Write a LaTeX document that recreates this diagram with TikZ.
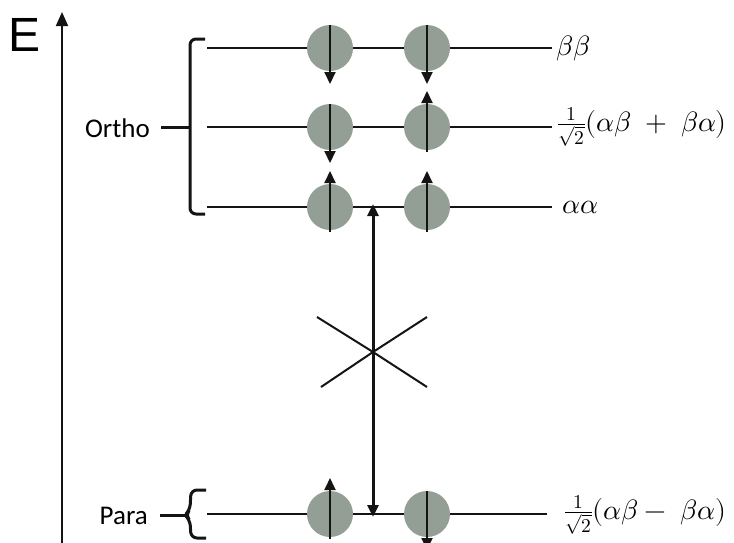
\documentclass[tikz,border=0pt]{standalone}
\usepackage{fontspec}
\usepackage{unicode-math}
\setmainfont{Carlito}
\setmathfont{Latin Modern Math}
\newfontfamily\efont{Liberation Sans}
\usetikzlibrary{arrows.meta,calc}

\definecolor{spingray}{RGB}{147,159,149}
\definecolor{ink}{RGB}{20,20,20}

\begin{document}
\begin{tikzpicture}[x=1pt,y=-1pt,
  level/.style={draw=ink, line width=2.6pt},
  spin/.style={circle, fill=spingray, minimum size=46pt, inner sep=0pt},
  spinarrow/.style={draw=ink, line width=2pt, -{Triangle[length=12pt,width=11pt]}},
  bracket/.style={draw=ink, line width=3pt, rounded corners=6pt},
  tick/.style={draw=ink, line width=3pt},
  axis/.style={draw=ink, line width=1.8pt, -{Triangle[length=14pt,width=12pt]}},
  trans/.style={draw=ink, line width=3pt, {Triangle[length=12pt,width=11pt]}-{Triangle[length=12pt,width=11pt]}},
  crossline/.style={draw=ink, line width=2pt},
  statelbl/.style={anchor=west, inner sep=0pt, font=\fontsize{28}{32}\selectfont},
  grouplbl/.style={anchor=east, inner sep=0pt, font=\fontsize{27}{30}\selectfont}]
\useasboundingbox (0,0) rectangle (734,542);

% energy axis
\node[font=\efont\fontsize{48}{50}\selectfont, inner sep=0pt] (E) at (25,35) {E};
\coordinate (axbot) at (62,545);
\coordinate (axtop) at (62,12);
\draw[axis] (axbot) -- (axtop);

% energy levels
\foreach \n/\y/\xr in {1/48/552, 2/127/552, 3/207/552, 4/514/547} {
  \coordinate (L\n a) at (207,\y);
  \coordinate (L\n b) at (\xr,\y);
  \draw[level] (L\n a) -- (L\n b);
}

% spin circles
\foreach \n/\y in {1/48, 2/127, 3/207, 4/514} {
  \node[spin] (s\n a) at (330,\y) {};
  \node[spin] (s\n b) at (427,\y) {};
}

% spin arrows: down = from top edge to below, up = from below to above
\foreach \s in {s1a, s1b, s2a, s4b} {
  \draw[spinarrow] ($(\s.center)+(0,-23)$) -- ($(\s.center)+(0,36)$);
}
\foreach \s in {s2b, s3a, s3b, s4a} {
  \draw[spinarrow] ($(\s.center)+(0,25)$) -- ($(\s.center)+(0,-36)$);
}

% state labels
\node[statelbl] (lab1) at (556,48) {$\beta\beta$};
\node[statelbl] (lab2) at (557,127) {$\tfrac{1}{\sqrt{2}}(\alpha\beta\;+\;\beta\alpha)$};
\node[statelbl] (lab3) at (562,207) {$\alpha\alpha$};
\node[statelbl] (lab4) at (564,515) {$\tfrac{1}{\sqrt{2}}(\alpha\beta-\;\beta\alpha)$};

% ortho bracket
\draw[bracket] (205,39) -- (190,39) -- (190,214) -- (205,214);
\coordinate (orthotip) at (190,127);
\draw[tick] (161,127) -- (orthotip);
\node[grouplbl] (ortho) at (150,128) {Ortho};

% para bracket
\draw[bracket] (206,490) -- (191,490) -- (190,510) -- (185,515) -- (190,520) -- (191,538) -- (206,538);
\coordinate (paratip) at (186,515);
\draw[tick] (160,515) -- (paratip);
\node[grouplbl] (para) at (148,516) {Para};

% forbidden transition
\coordinate (ttop) at (373,204);
\coordinate (tbot) at (373,517);
\draw[trans] (ttop) -- (tbot);
\coordinate (xc) at (373,352);
\draw[crossline] (317,317) -- (xc) -- (427,387);
\draw[crossline] (321,387) -- (xc) -- (427,317);
\end{tikzpicture}
\end{document}
